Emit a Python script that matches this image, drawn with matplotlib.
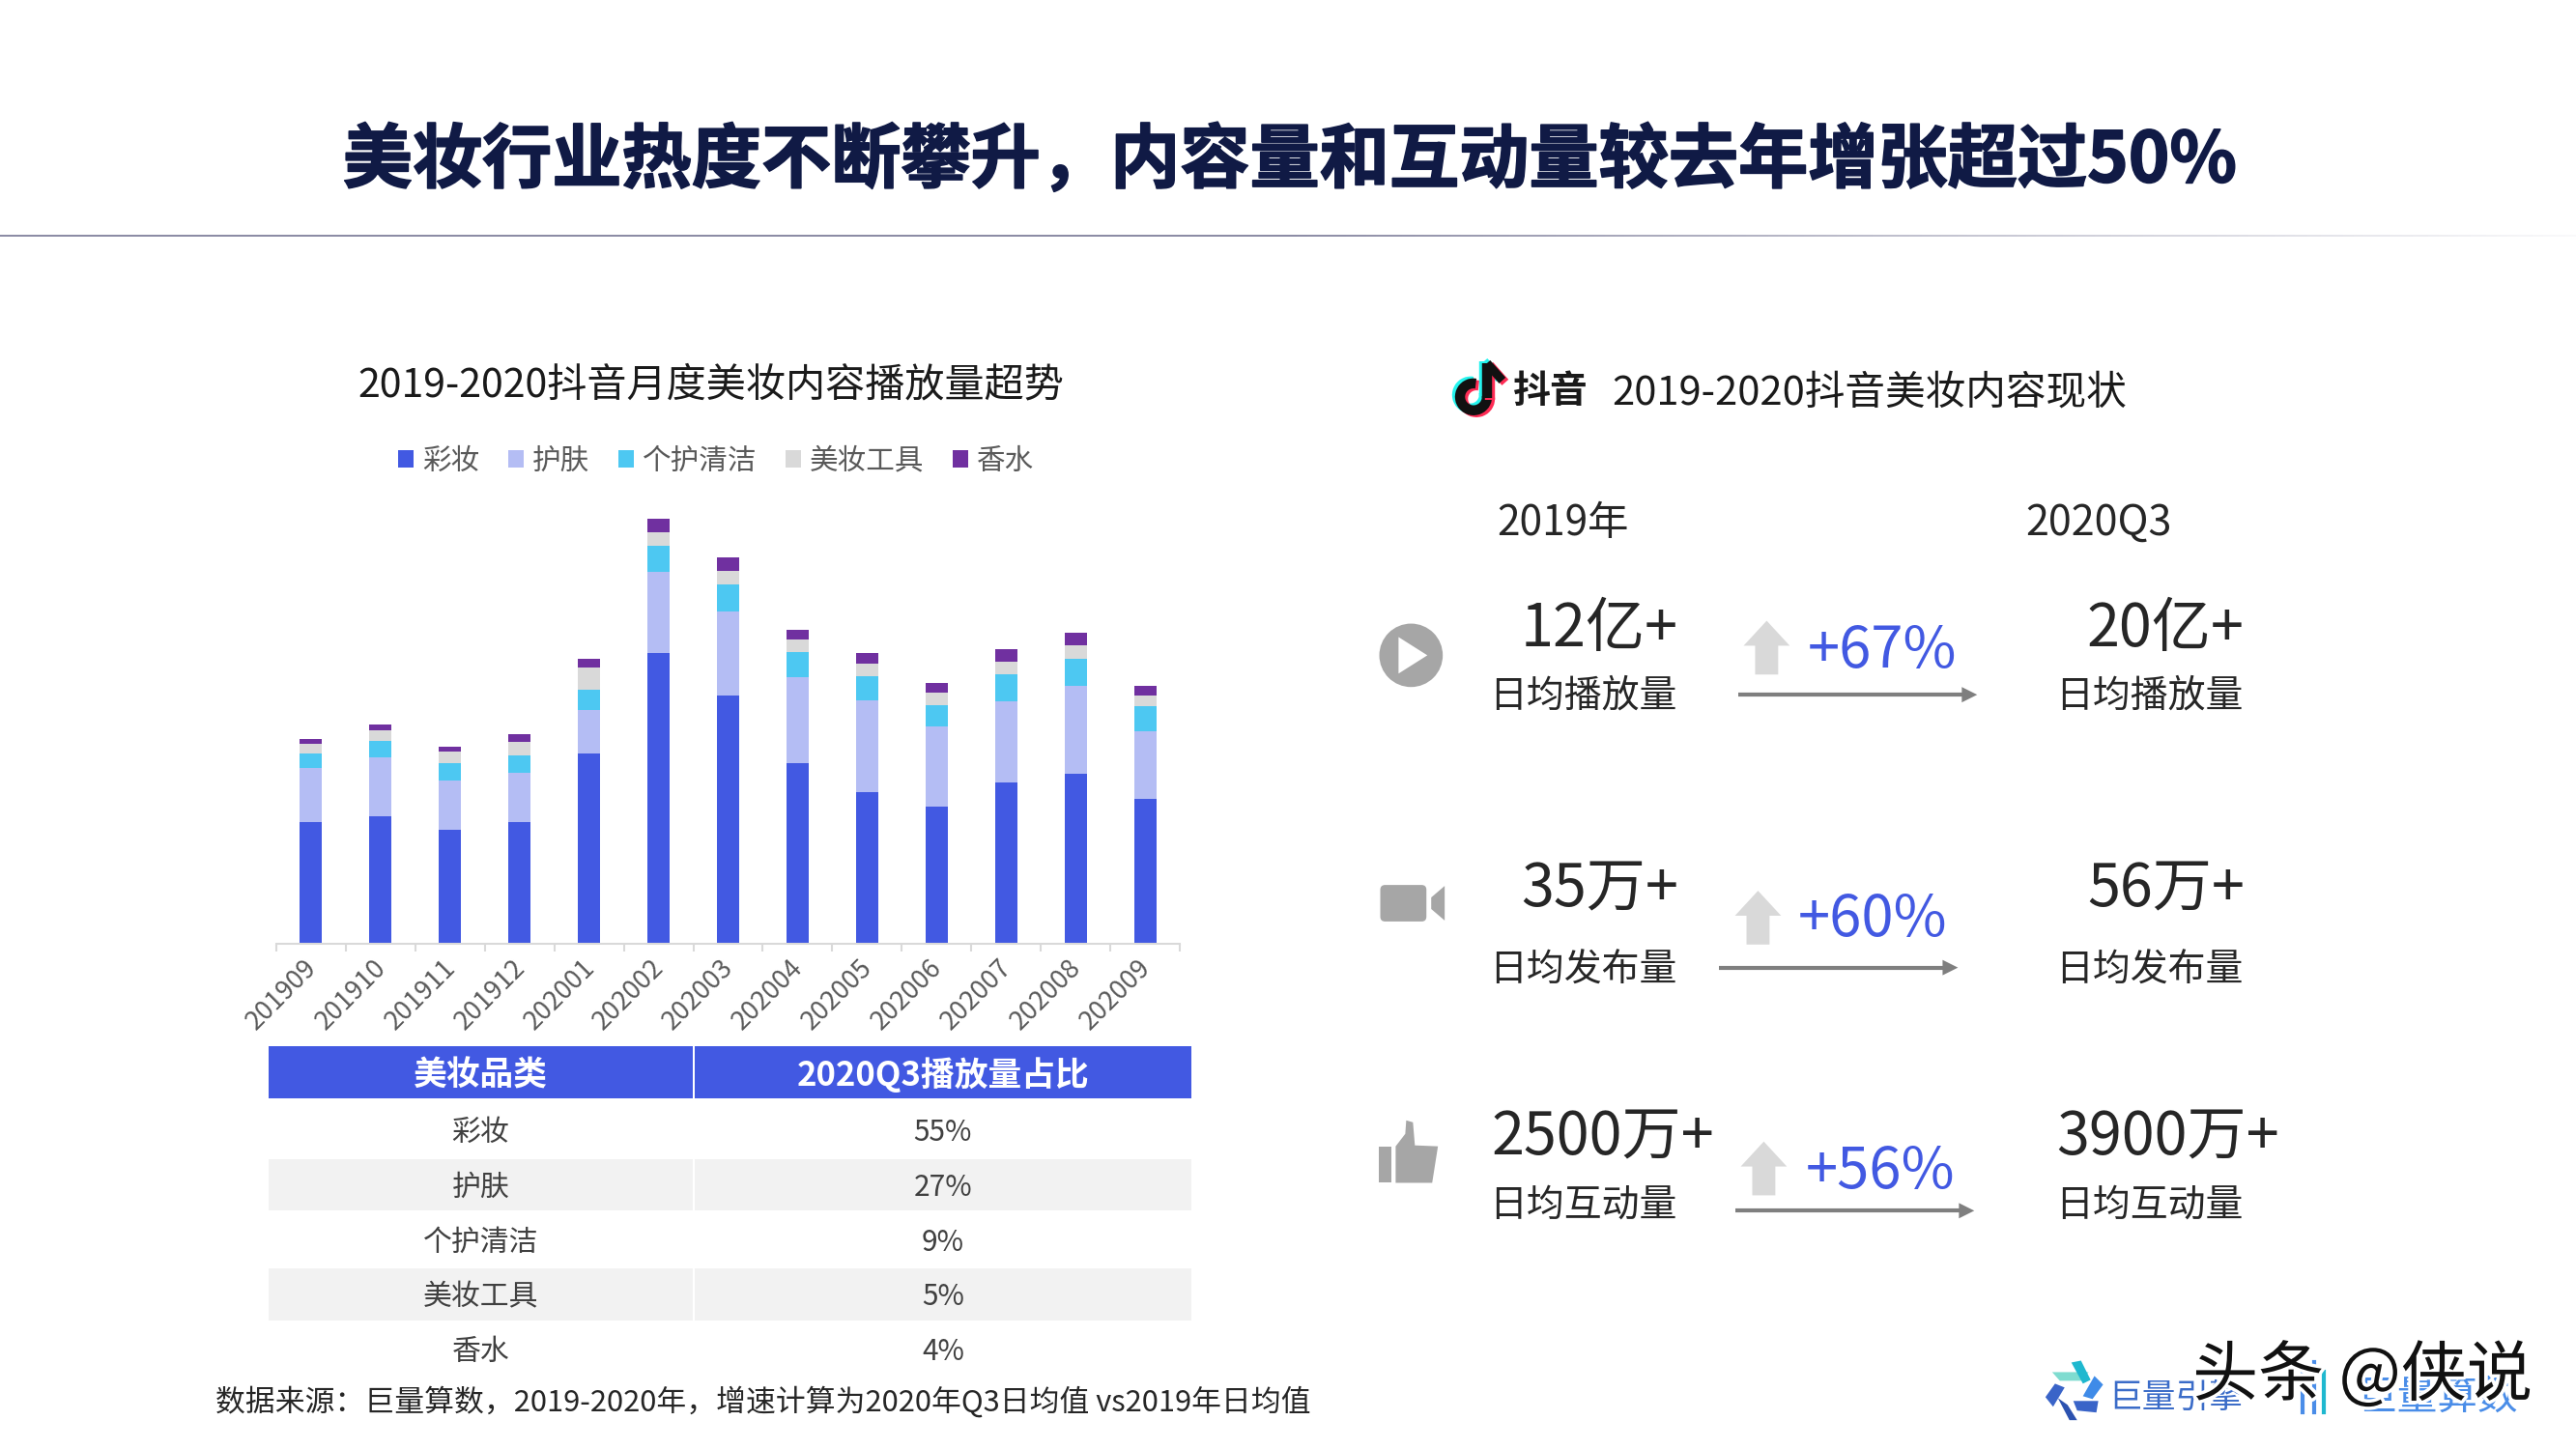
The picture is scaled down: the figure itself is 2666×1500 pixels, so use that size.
import numpy as np
import matplotlib
matplotlib.use('Agg')
import matplotlib.pyplot as plt
import matplotlib.patheffects as pe
from matplotlib.patches import Rectangle, Polygon, Circle, FancyBboxPatch, Arc
from matplotlib.transforms import ScaledTranslation

plt.rcParams['font.family'] = ['Noto Sans CJK SC', 'DejaVu Sans']

months = ['201909', '201910', '201911', '201912', '202001', '202002', '202003',
          '202004', '202005', '202006', '202007', '202008', '202009']
caizhuang = [261, 273, 244, 261, 407, 622, 531, 387, 325, 294, 344, 363, 310]
hufu = [114, 126, 105, 105, 93, 173, 179, 183, 196, 171, 175, 189, 145]
gehu = [32, 34, 37, 36, 42, 56, 57, 53, 51, 44, 56, 56, 52]
gongju = [20, 24, 24, 30, 49, 29, 29, 27, 27, 27, 28, 29, 23]
xiangshui = [10, 11, 12, 16, 18, 29, 29, 20, 23, 22, 27, 28, 22]

series_names = ['彩妆', '护肤', '个护清洁', '美妆工具', '香水']
series_colors = ['#4259e2', '#b4bdf4', '#4dc8f2', '#d9d9d9', '#7030a0']

table_head = ['美妆品类', '2020Q3播放量占比']
table_share = ['55%', '27%', '9%', '5%', '4%']

row_big_left = ['12亿+', '35万+', '2500万+']
row_big_right = ['20亿+', '56万+', '3900万+']
row_labels = ['日均播放量', '日均发布量', '日均互动量']
row_growth = ['+67%', '+60%', '+56%']

TEXT = '#262626'
BLUE = '#4259e2'
GRAY = '#a6a6a6'

fig = plt.figure(figsize=(26.66, 15), dpi=100)

# whole slide, layout units slightly larger than pixels, y going down
bg = fig.add_axes([0, 0, 1, 1])
bg.axis('off')


def label(x, y, s, size, color=TEXT, ha='left', weight='normal'):
    return bg.text(x, y, s, fontsize=size, color=color, ha=ha, va='center', weight=weight)


# title and the fading rule under it
t = label(1342, 168, '美妆行业热度不断攀升，内容量和互动量较去年增张超过50%', 52, '#101a45',
          ha='center', weight='bold')
t.set_path_effects([pe.withStroke(linewidth=1.2, foreground='#101a45')])
fade = np.ones((1, 300, 4))
fade[..., 0] = 0.55
fade[..., 1] = 0.55
fade[..., 2] = 0.65
fade[..., 3] = np.concatenate([np.ones(150), np.linspace(1, 0.05, 150)])
bg.imshow(fade, extent=(0, 2680, 246, 244), aspect='auto', zorder=1)
bg.set_xlim(0, 2680)
bg.set_ylim(1508, 0)

# stacked bars
ax = fig.add_axes([286 / 2666, (1500 - 977) / 1500, 935 / 2666, 482 / 1500])
ax.patch.set_alpha(0)
x = np.arange(len(months))
bottom = np.zeros(len(months))
for vals, name, col in zip([caizhuang, hufu, gehu, gongju, xiangshui], series_names, series_colors):
    ax.bar(x, vals, width=0.32, bottom=bottom, color=col, label=name)
    bottom = bottom + np.array(vals)
ax.set_xlim(-0.5, len(months) - 0.5)
ax.set_ylim(0, 995)
ax.set_yticks([])
for s in ['top', 'left', 'right']:
    ax.spines[s].set_visible(False)
ax.spines['bottom'].set_color('#d9d9d9')
ax.spines['bottom'].set_linewidth(1.5)
ax.set_xticks(x)
ax.set_xticklabels(months, rotation=45, ha='right', va='top', rotation_mode='anchor',
                   fontsize=19.5, color='#595959')
ax.set_xticks(np.arange(len(months) + 1) - 0.5, minor=True)
ax.tick_params(axis='x', which='major', length=0, pad=8)
ax.tick_params(axis='x', which='minor', length=6, width=1.5, color='#d9d9d9')
shift = ScaledTranslation(-8 / 100, 0, fig.dpi_scale_trans)
for tl in ax.get_xticklabels():
    tl.set_transform(tl.get_transform() + shift)
ax.legend(ncol=5, loc='center', bbox_to_anchor=(741 / 2666, 1 - 477 / 1500),
          bbox_transform=fig.transFigure, frameon=False, fontsize=21.3, labelcolor='#595959',
          handlelength=0.55, handleheight=0.55, handletextpad=0.3, columnspacing=1.0)

label(740, 401, '2019-2020抖音月度美妆内容播放量超势', 29.6, '#1a1a1a', ha='center')

# table
col_x = [279, 723, 1239]
mid_x = [500, 981]
bg.add_patch(Rectangle((col_x[0], 1089), col_x[1] - col_x[0] - 2, 54, color=BLUE, lw=0))
bg.add_patch(Rectangle((col_x[1], 1089), col_x[2] - col_x[1], 54, color=BLUE, lw=0))
label(mid_x[0], 1119, table_head[0], 25, 'white', ha='center', weight='bold')
label(mid_x[1], 1119, table_head[1], 25, 'white', ha='center', weight='bold')
for i, (name, share) in enumerate(zip(series_names, table_share)):
    yc = 1176 + i * 57
    if i % 2 == 1:
        bg.add_patch(Rectangle((col_x[0], yc - 27), col_x[1] - col_x[0] - 2, 54, color='#f2f2f2', lw=0))
        bg.add_patch(Rectangle((col_x[1], yc - 27), col_x[2] - col_x[1], 54, color='#f2f2f2', lw=0))
    label(mid_x[0], yc + 3, name, 21.5, '#404040', ha='center')
    label(mid_x[1], yc + 3, share, 21.5, '#404040', ha='center')

label(224, 1459, '数据来源：巨量算数，2019-2020年，增速计算为2020年Q3日均值 vs2019年日均值', 22.2, TEXT)

# douyin logo, same note drawn three times
for dx, dy, col in [(-3, -2, '#25f4ee'), (3, 2, '#fe2c55'), (0, 0, '#111111')]:
    bg.add_patch(Arc((1533 + dx, 413 + dy), 28, 28, theta1=-10, theta2=280, lw=7.5, color=col))
    bg.plot([1547 + dx, 1547 + dx], [378 + dy, 414 + dy], color=col, lw=7.5, solid_capstyle='butt')
    bg.plot([1547 + dx, 1563 + dx], [378 + dy, 396 + dy], color=col, lw=6.5, solid_capstyle='butt')
label(1574, 408, '抖音', 28, '#1a1a1a', weight='bold')
label(1677, 409, '2019-2020抖音美妆内容现状', 30, '#1a1a1a')
label(1557, 545, '2019年', 30.5, TEXT)
label(2107, 545, '2020Q3', 31, TEXT)

# three rows on the right
big_y = [655, 926, 1184]
sub_y = [724, 1010, 1254]
left_edge = [1746, 1746, 1783]
right_edge = [2335, 2335, 2371]
pct_x = [1881, 1871, 1879]
pct_y = [678, 958, 1220]
up_x = [1838, 1829, 1835]
up_y = [702, 983, 1244]
arrow_x = [1808, 1788, 1805]
arrow_y = [723, 1007, 1260]
for i in range(3):
    label(left_edge[i], big_y[i], row_big_left[i], 44, TEXT, ha='right')
    label(right_edge[i], big_y[i], row_big_right[i], 44, TEXT, ha='right')
    label(1745, sub_y[i], row_labels[i], 28, TEXT, ha='right')
    label(2334, sub_y[i], row_labels[i], 28, TEXT, ha='right')
    label(pct_x[i], pct_y[i], row_growth[i], 43, BLUE)
    ux, uy = up_x[i], up_y[i]
    bg.add_patch(Polygon([(ux - 12, uy), (ux + 12, uy), (ux + 12, uy - 30), (ux + 24, uy - 30),
                          (ux, uy - 56), (ux - 24, uy - 30), (ux - 12, uy - 30)],
                         color='#d9d9d9', lw=0))
    ax_, ay = arrow_x[i], arrow_y[i]
    bg.plot([ax_, ax_ + 235], [ay, ay], color='#7f7f7f', lw=3, solid_capstyle='butt')
    bg.add_patch(Polygon([(ax_ + 233, ay - 8), (ax_ + 249, ay), (ax_ + 233, ay + 8)],
                         color='#7f7f7f', lw=0))

# icons
bg.add_patch(Circle((1468, 682), 33, color=GRAY, lw=0))
bg.add_patch(Polygon([(1455, 663), (1455, 701), (1485, 682)], color='white', lw=0))
bg.add_patch(FancyBboxPatch((1438, 923), 44, 34, boxstyle='round,pad=2,rounding_size=5', color=GRAY, lw=0))
bg.add_patch(Polygon([(1489, 934), (1503, 922), (1503, 958), (1489, 946)], color=GRAY, lw=0))
bg.add_patch(Rectangle((1434, 1193), 14, 38, color=GRAY, lw=0))
bg.add_patch(Polygon([(1452, 1193), (1462, 1180), (1463, 1166), (1470, 1168), (1472, 1192),
                      (1496, 1193), (1490, 1231), (1452, 1231)], color=GRAY, lw=0))

# brand marks bottom right
logo = [([(2124, 1420), (2162, 1420), (2154, 1429), (2132, 1429)], '#7fdcd0'),
        ([(2144, 1410), (2154, 1408), (2164, 1428), (2156, 1432)], '#1fb8cf'),
        ([(2168, 1424), (2177, 1433), (2166, 1448), (2156, 1445)], '#3f8be8'),
        ([(2146, 1450), (2172, 1450), (2170, 1462), (2150, 1460)], '#3a64c8'),
        ([(2130, 1447), (2140, 1454), (2150, 1470), (2142, 1470)], '#2c52b0'),
        ([(2127, 1432), (2137, 1436), (2125, 1456), (2117, 1446)], '#3a64c8')]
for pts, col in logo:
    bg.add_patch(Polygon([(px + 11, py + 8) for px, py in pts], color=col, lw=0))
label(2194, 1455, '巨量引擎', 25, '#3b6cc8')
for bx, by0, by1, col in [(2396, 1428, 1470, '#4a8de8'), (2408, 1418, 1470, '#4a8de8'), (2418, 1428, 1470, '#1fb8cf')]:
    bg.plot([bx, bx], [by0, by1], color=col, lw=3)
label(2452, 1455, '巨量算数', 30, '#4a8de8')
w = label(2281, 1433, '头条 @侠说', 49, '#111111')
w.set_path_effects([pe.withStroke(linewidth=5, foreground='white')])

plt.savefig('out.png', dpi=100)
